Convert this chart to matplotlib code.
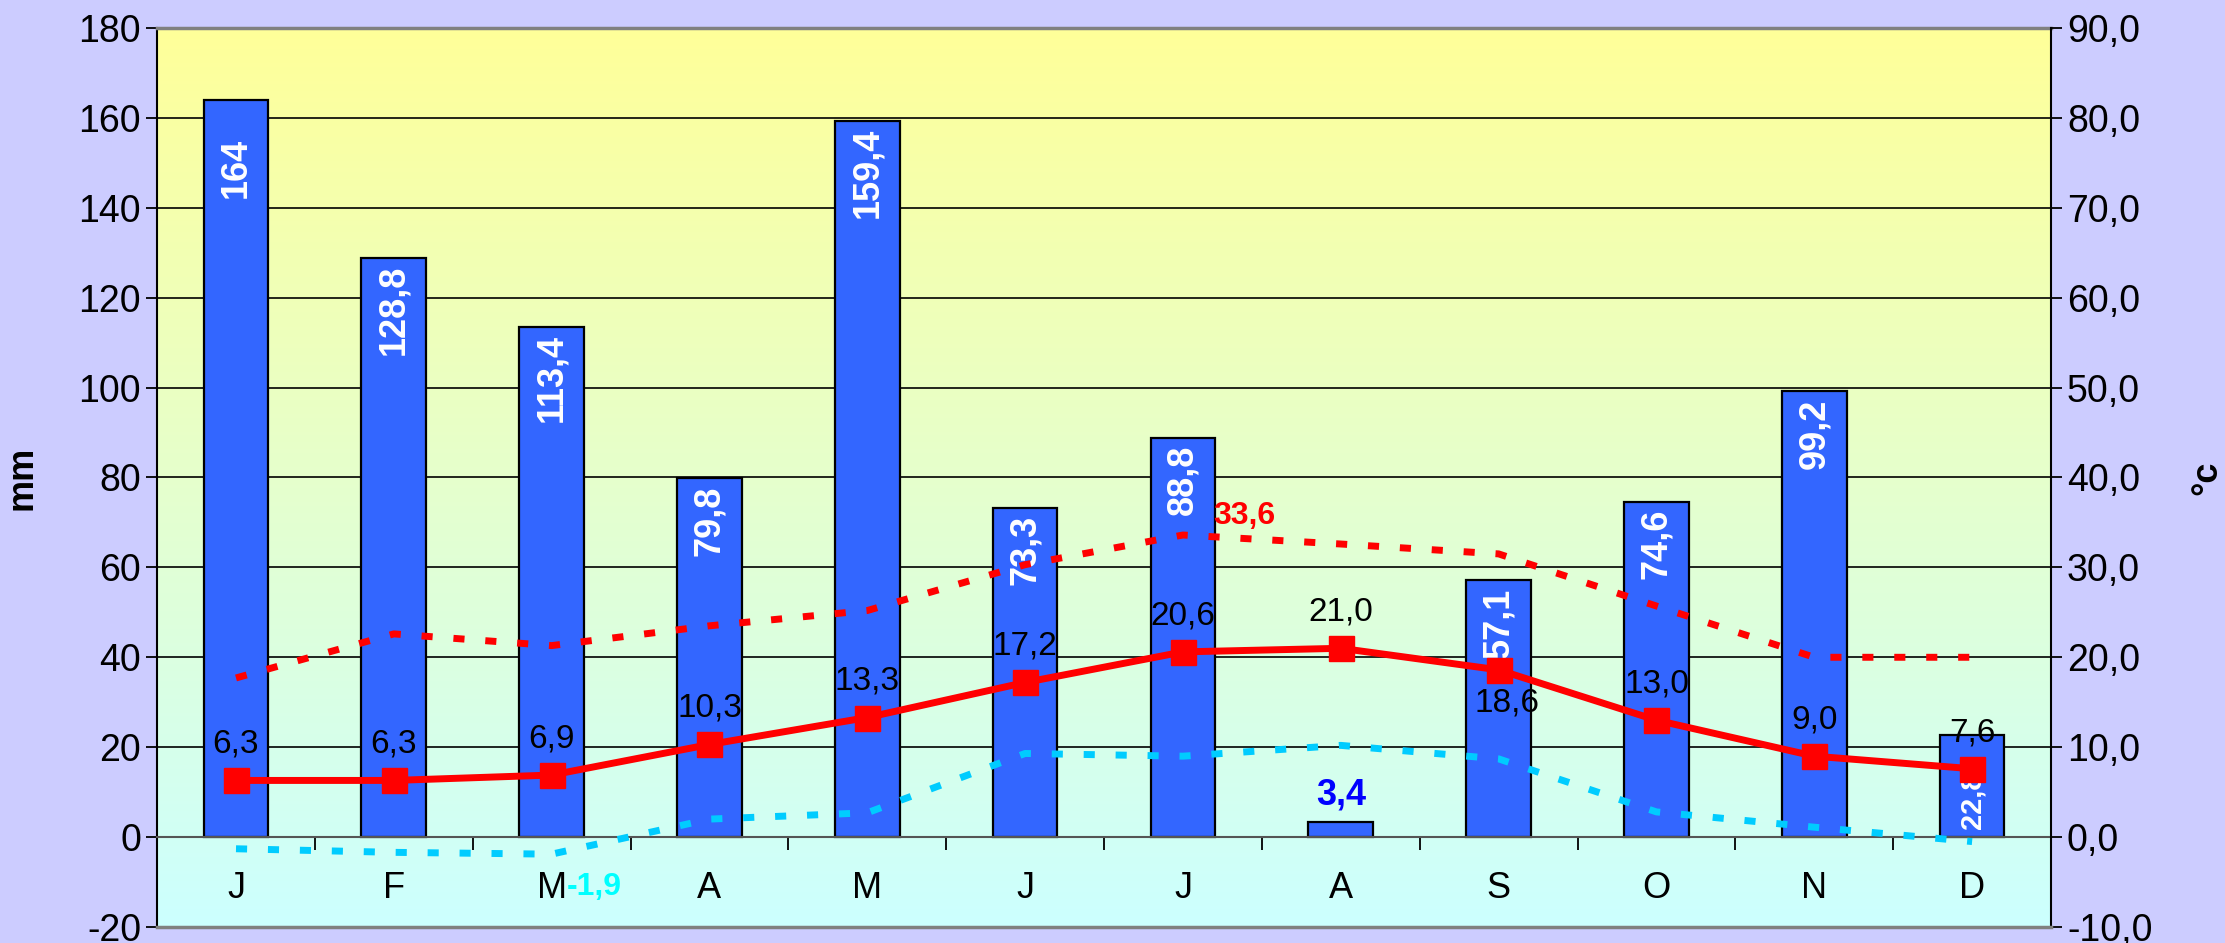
import numpy as np
import matplotlib.pyplot as plt
from matplotlib.colors import LinearSegmentedColormap

plt.rcParams['font.family'] = ['Liberation Sans', 'DejaVu Sans']
plt.rcParams['axes.unicode_minus'] = False

months = ["J", "F", "M", "A", "M", "J", "J", "A", "S", "O", "N", "D"]
rain_mm = [164, 128.8, 113.4, 79.8, 159.4, 73.3, 88.8, 3.4, 57.1, 74.6, 99.2, 22.8]
t_mean = [6.3, 6.3, 6.9, 10.3, 13.3, 17.2, 20.6, 21.0, 18.6, 13.0, 9.0, 7.6]
t_max = [17.7, 22.6, 21.3, 23.5, 25.2, 30.3, 33.6, 32.6, 31.5, 25.7, 20.0, 20.0]
t_min = [-1.3, -1.7, -1.9, 2.0, 2.7, 9.3, 9.0, 10.2, 8.7, 2.8, 1.1, -0.5]


def fmt(v):
    if float(v).is_integer() and v > 100:
        return str(int(v))
    return f"{v:.1f}".replace(".", ",")


def main():
    x = np.arange(len(months))

    fig = plt.figure(figsize=(22.25, 9.43), dpi=100, facecolor="#ccccff")
    ax = fig.add_axes([0.0706, 0.017, 0.8512, 0.9533])
    ax2 = ax.twinx()

    # gradient plot area
    cmap = LinearSegmentedColormap.from_list("bg", ["#ccffff", "#ffff99"])
    grad = np.linspace(0, 1, 256).reshape(-1, 1)
    ax.imshow(grad, cmap=cmap, origin="lower", aspect="auto",
              extent=[-0.5, 11.5, -20, 180], zorder=0)

    ax.set_axisbelow(True)
    ax.bar(x, rain_mm, width=0.41, color="#3366ff", edgecolor="black",
           linewidth=1.6, zorder=2)

    for xi, v in zip(x, rain_mm):
        if v < 10:
            ax.annotate(fmt(v), (xi, v), xytext=(0, 7), textcoords="offset points",
                        ha="center", va="bottom", fontsize=26, fontweight="bold",
                        color="#0000ff", zorder=3)
        else:
            size = 26 if v > 40 else 21
            # excel pushes some labels further down the bar
            drop = -27 if (v < 40 or float(v).is_integer()) else -5
            ax.annotate(fmt(v), (xi, v), xytext=(0, drop), textcoords="offset points",
                        ha="center", va="top", rotation=90, fontsize=size,
                        fontweight="bold", color="white", zorder=3)

    ax.set_xlim(-0.5, 11.5)
    ax.set_ylim(-20, 180)
    ax.set_yticks(np.arange(-20, 181, 20))
    ax.tick_params(axis="y", labelsize=27, length=8, width=1.3, direction="out")
    ax.yaxis.grid(True, color="black", linewidth=1.2)

    ax.spines["bottom"].set_position(("data", 0))
    ax.spines["bottom"].set_color("#555555")
    ax.spines["bottom"].set_linewidth(1.5)
    ax.set_xticks(x[:-1] + 0.5)
    ax.set_xticklabels([])
    ax.tick_params(axis="x", length=9, width=1.3, direction="out")
    ax.spines["top"].set_color("#808080")
    ax.spines["top"].set_linewidth(2.5)
    ax.spines["left"].set_linewidth(1.5)
    ax.spines["right"].set_visible(False)

    for xi, m in zip(x, months):
        ax.text(xi, -11.5, m, ha="center", va="center", fontsize=26)

    ax.set_ylabel("mm", fontsize=26, fontweight="bold")
    ax.yaxis.set_label_coords(-0.062, 0.5)

    # temperature lines
    ax2.plot(x, t_max, color="#ff0000", linewidth=5,
             linestyle=(0, (1.6, 3.0)), zorder=3)
    ax2.plot(x, t_min, color="#00ccff", linewidth=5,
             linestyle=(0, (1.6, 3.0)), zorder=3)
    ax2.plot(x, t_mean, color="#ff0000", linewidth=5, marker="s",
             markersize=18, zorder=4)

    for xi, v in zip(x, t_mean):
        if months[xi] == "S":
            ax2.annotate(fmt(v), (xi, v), xytext=(6, -24), textcoords="offset points",
                         ha="center", va="center", fontsize=24)
        else:
            ax2.annotate(fmt(v), (xi, v), xytext=(0, 26), textcoords="offset points",
                         ha="center", va="center", fontsize=24)

    i_max = int(np.argmax(t_max))
    ax2.annotate(fmt(t_max[i_max]), (x[i_max], t_max[i_max]), xytext=(22, 14),
                 textcoords="offset points", ha="left", va="center",
                 fontsize=23, fontweight="bold", color="#ff0000")
    i_min = int(np.argmin(t_min))
    ax2.annotate(fmt(t_min[i_min]), (x[i_min], t_min[i_min]), xytext=(11, -24),
                 textcoords="offset points", ha="left", va="center",
                 fontsize=23, fontweight="bold", color="#00ffff")

    ax2.set_ylim(-10, 90)
    ax2.set_yticks(np.arange(-10, 91, 10))
    ax2.set_yticklabels([fmt(t) for t in np.arange(-10, 91, 10)])
    ax2.tick_params(axis="y", labelsize=27, length=8, width=1.3, direction="out")
    ax2.spines["right"].set_linewidth(1.5)
    ax2.spines["left"].set_visible(False)
    ax2.spines["top"].set_visible(False)
    ax2.spines["bottom"].set_color("#808080")
    ax2.spines["bottom"].set_linewidth(2.5)
    ax2.set_ylabel("°c", fontsize=26, fontweight="bold", rotation=90,
                   ha="center", va="center")
    ax2.yaxis.set_label_coords(1.0824, 0.5)

    fig.savefig("out.png", dpi=100, facecolor=fig.get_facecolor())


if __name__ == "__main__":
    main()
